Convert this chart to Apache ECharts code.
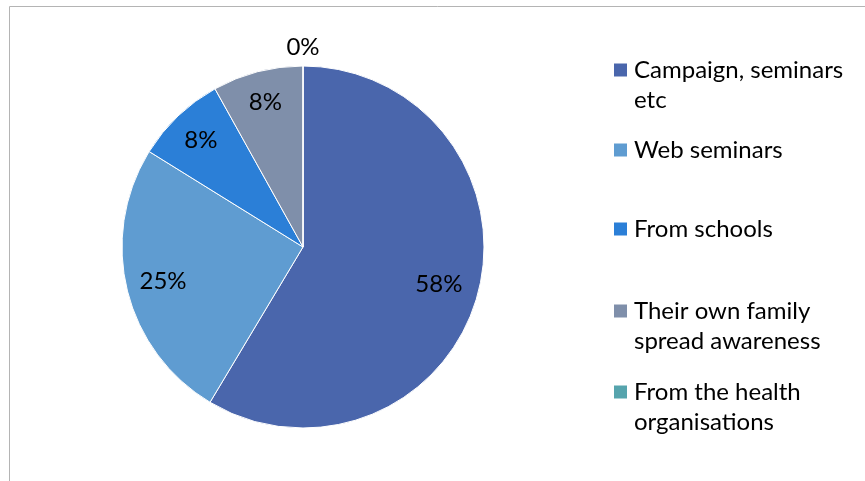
<!DOCTYPE html>
<html>
<head>
<meta charset="utf-8">
<script src="https://cdn.jsdelivr.net/npm/echarts@6/dist/echarts.min.js"></script>
<style>
  html, body { margin: 0; padding: 0; background: #fff; }
  #chart { width: 865px; height: 481px; }
</style>
</head>
<body>
<div id="chart"></div>
<script>
// data
const categories = [
  'Campaign, seminars etc',
  'Web seminars',
  'From schools',
  'Their own family spread awareness',
  'From the health organisations'
];
const shares = [58, 25, 8, 8, 0];
const colors = ['#4a66ac', '#5f9cd1', '#2b7fd7', '#7f8faa', '#56a4ad'];
// how the legend wraps each name
const legendText = [
  'Campaign, seminars\netc',
  'Web seminars',
  'From schools',
  'Their own family\nspread awareness',
  'From the health\norganisations'
];

const chart = echarts.init(document.getElementById('chart'));

const cx = 303, cy = 247, R = 181;
const font = 'Lato, "Noto Sans", sans-serif';
const iconCenters = [70, 150, 229, 311, 392];
const lineH = 30;
// distance of each percentage label from the centre (Excel "best fit")
const labelRadius = [141, 144, 148, 150, 200];

const total = shares.reduce((a, b) => a + b, 0);
const midAngles = [];
let acc = 0;
shares.forEach(v => {
  midAngles.push((acc + v / 2) / total * Math.PI * 2);
  acc += v;
});

// one legend per item so the spacing matches the original
const legends = categories.map((name, i) => {
  const twoLines = legendText[i].indexOf('\n') >= 0;
  return {
    orient: 'vertical',
    left: 612,
    top: iconCenters[i] - (twoLines ? lineH * 1.5 : lineH / 2),
    padding: 0,
    itemWidth: 15,
    itemHeight: 15,
    icon: 'rect',
    selectedMode: false,
    data: [name],
    // leading blank line keeps the icon next to the first line
    formatter: () => (twoLines ? '\n' : '') + legendText[i],
    textStyle: { fontFamily: font, fontSize: 24, color: '#000', lineHeight: lineH, padding: [0, 0, 0, 1] }
  };
});

chart.setOption({
  animation: false,
  backgroundColor: '#fff',
  graphic: [{
    type: 'rect',
    shape: { x: 9.5, y: 6.5, width: 1000, height: 600 },
    style: { fill: 'none', stroke: '#b4b4b4', lineWidth: 1 },
    silent: true
  }],
  legend: legends,
  series: [{
    type: 'pie',
    center: [cx, cy],
    radius: [0, R],
    startAngle: 90,
    clockwise: true,
    avoidLabelOverlap: false,
    itemStyle: { borderColor: '#fff', borderWidth: 1 },
    label: {
      show: true,
      position: 'inside',
      formatter: '{c}%',
      fontFamily: font,
      fontSize: 24,
      color: '#000'
    },
    labelLine: { show: false },
    labelLayout: function (p) {
      const a = midAngles[p.dataIndex];
      const r = labelRadius[p.dataIndex];
      return { x: cx + r * Math.sin(a), y: cy - r * Math.cos(a) };
    },
    data: categories.map((name, i) => ({
      name: name,
      value: shares[i],
      itemStyle: { color: colors[i] }
    }))
  }]
});
</script>
</body>
</html>
